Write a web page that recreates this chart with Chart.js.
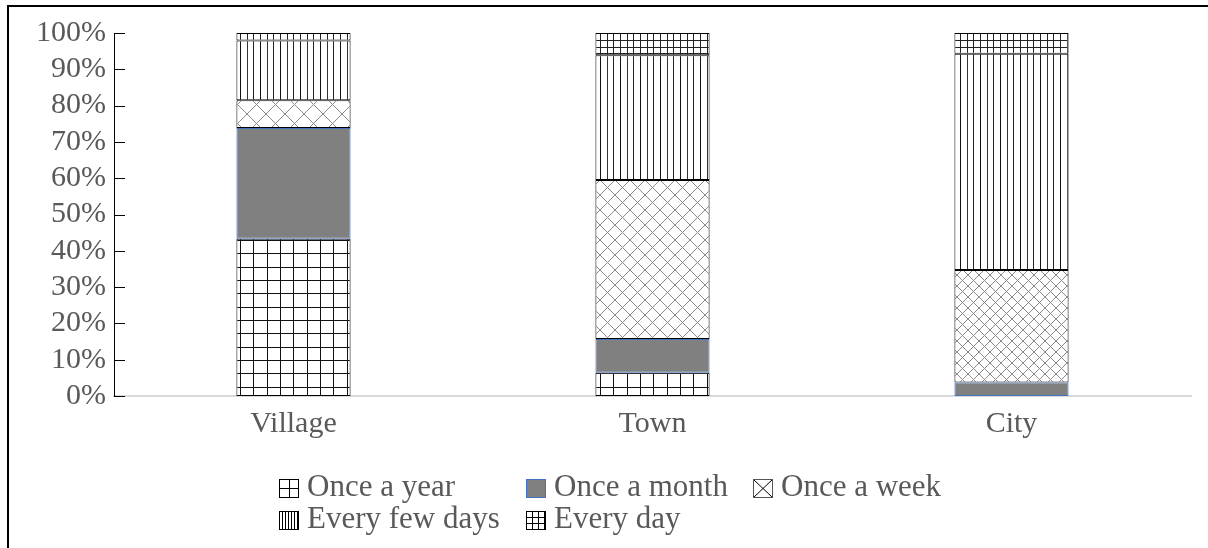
<!DOCTYPE html>
<html>
<head>
<meta charset="utf-8">
<script src="https://cdn.jsdelivr.net/npm/chart.js@4/dist/chart.umd.min.js"></script>
<style>
  html, body { margin: 0; padding: 0; background: #fff; }
  #wrap { position: relative; width: 1208px; height: 548px; overflow: hidden; }
  #frame { position: absolute; left: 7px; top: 5px; width: 1300px; height: 700px;
           border-left: 2px solid #000; border-top: 2px solid #000; pointer-events: none; }
  canvas { position: absolute; left: 0; top: 0; }
</style>
</head>
<body>
<div id="wrap">
  <canvas id="c" width="1208" height="548"></canvas>
  <div id="frame"></div>
</div>
<script>
// ---- data ----
const categories = ['Village', 'Town', 'City'];
const seriesNames = ['Once a year', 'Once a month', 'Once a week', 'Every few days', 'Every day'];
const onceYear     = [43.3, 6.4, 0];
const onceMonth    = [30.5, 9.3, 3.7];
const onceWeek     = [7.7, 43.8, 31.0];
const everyFewDays = [16.4, 34.4, 59.6];
const everyDay     = [2.1, 6.1, 5.7];
const yTicks = [0, 10, 20, 30, 40, 50, 60, 70, 80, 90, 100];

// ---- styles ----
const FONT = "'Liberation Serif', 'Times New Roman', serif";
const TEXT = '#595959';
const canvas = document.getElementById('c');
const ctx = canvas.getContext('2d');

function tile(size, draw) {
  const c = document.createElement('canvas');
  c.width = size; c.height = size;
  const x = c.getContext('2d');
  x.fillStyle = '#fff'; x.fillRect(0, 0, size, size);
  draw(x, size);
  return ctx.createPattern(c, 'repeat');
}
const gridLarge = tile(40, (x) => {
  x.fillStyle = '#111';
  [0, 13, 27].forEach(p => { x.fillRect(p, 0, 1, 40); x.fillRect(0, p, 40, 1); });
});
const gridSmall = tile(20, (x) => {
  x.fillStyle = '#222';
  [0, 7, 13].forEach(p => { x.fillRect(p, 0, 1, 20); x.fillRect(0, p, 20, 1); });
});
const vLines = tile(20, (x) => {
  x.fillStyle = '#111'; x.fillRect(0, 0, 1, 20);
  x.fillStyle = '#333'; x.fillRect(7, 0, 1, 20);
  x.fillStyle = '#222'; x.fillRect(13, 0, 1, 20);
});
function cross(s) {
  return tile(s, (x, n) => {
    x.strokeStyle = '#8a8a8a'; x.lineWidth = 1;
    x.beginPath();
    x.moveTo(-1, -1); x.lineTo(n + 1, n + 1);
    x.moveTo(n + 1, -1); x.lineTo(-1, n + 1);
    x.stroke();
  });
}
const crossBars = [cross(19), cross(15), cross(11)];

const datasets = [
  { label: seriesNames[0], data: onceYear, backgroundColor: gridLarge, borderColor: '#000' },
  { label: seriesNames[1], data: onceMonth, backgroundColor: '#808080', borderColor: '#4472C4' },
  { label: seriesNames[2], data: onceWeek, backgroundColor: crossBars, borderColor: '#000' },
  { label: seriesNames[3], data: everyFewDays, backgroundColor: vLines, borderColor: '#000' },
  { label: seriesNames[4], data: everyDay, backgroundColor: gridSmall, borderColor: '#000' }
].map(d => Object.assign(d, { borderWidth: 1, borderSkipped: false, categoryPercentage: 1, barPercentage: 0.318 }));

// inside tick marks on y axis
const innerTicks = {
  id: 'innerTicks',
  afterDraw(chart) {
    const y = chart.scales.y, a = chart.chartArea, c = chart.ctx;
    c.save();
    c.strokeStyle = '#000'; c.lineWidth = 1;
    yTicks.forEach(v => {
      const py = Math.round(y.getPixelForValue(v)) + 0.5;
      c.beginPath(); c.moveTo(a.left, py); c.lineTo(a.left + 11, py); c.stroke();
    });
    c.restore();
  }
};

// custom grid legend
const gridLegend = {
  id: 'gridLegend',
  afterDraw(chart) {
    const c = chart.ctx;
    const cols = [279, 526, 753];
    const rows = [496, 528];
    const layout = [[0, 0], [0, 1], [0, 2], [1, 0], [1, 1]];
    c.save();
    c.font = '31px ' + FONT;
    c.textBaseline = 'alphabetic';
    c.textAlign = 'left';
    chart.data.datasets.forEach((ds, i) => {
      const [r, k] = layout[i];
      const x = cols[k], base = rows[r];
      const bx = x + 0.5, by = base - 17 + 0.5, bw = 19, bh = 18;
      c.fillStyle = '#fff';
      c.fillRect(bx, by, bw, bh);
      c.strokeStyle = '#000'; c.lineWidth = 1;
      c.beginPath();
      if (i === 0) {
        c.moveTo(bx + 10, by); c.lineTo(bx + 10, by + bh);
        c.moveTo(bx, by + 9); c.lineTo(bx + bw, by + 9);
      } else if (i === 2) {
        c.moveTo(bx, by); c.lineTo(bx + bw, by + bh);
        c.moveTo(bx + bw, by); c.lineTo(bx, by + bh);
      } else if (i === 3) {
        for (let p = 3; p < bw; p += 3) { c.moveTo(bx + p, by); c.lineTo(bx + p, by + bh); }
      } else if (i === 4) {
        for (let p = 6; p < bw; p += 6) { c.moveTo(bx + p, by); c.lineTo(bx + p, by + bh); }
        for (let p = 6; p < bh; p += 6) { c.moveTo(bx, by + p); c.lineTo(bx + bw, by + p); }
      }
      c.stroke();
      if (i === 1) {
        c.fillStyle = '#808080'; c.fillRect(bx, by, bw, bh);
        c.strokeStyle = '#4472C4';
      } else {
        c.strokeStyle = i === 2 ? '#555' : '#000';
      }
      c.strokeRect(bx, by, bw, bh);
      c.fillStyle = TEXT;
      c.fillText(ds.label, x + 28, base);
    });
    c.restore();
  }
};

Chart.defaults.font.family = FONT;
Chart.defaults.font.size = 30;
Chart.defaults.color = TEXT;

new Chart(ctx, {
  type: 'bar',
  data: { labels: categories, datasets },
  options: {
    responsive: false,
    animation: false,
    layout: { padding: { left: 0, right: 17, top: 33, bottom: 0 } },
    plugins: { legend: { display: false }, tooltip: { enabled: false } },
    scales: {
      x: {
        stacked: true,
        grid: { display: false, drawTicks: false },
        border: { display: true, color: '#d9d9d9', width: 2 },
        ticks: { padding: 10, color: TEXT, font: { size: 30, family: FONT } },
        afterFit: (s) => { s.height = 152; }
      },
      y: {
        stacked: true,
        min: 0, max: 100,
        grid: { display: false, drawTicks: false },
        border: { display: true, color: '#000', width: 1 },
        ticks: {
          stepSize: 10, padding: 8, autoSkip: false, color: TEXT, font: { size: 30, family: FONT },
          callback: (v) => yTicks.includes(v) ? v + '%' : ''
        },
        afterFit: (s) => { s.width = 114; }
      }
    }
  },
  plugins: [innerTicks, gridLegend]
});
</script>
</body>
</html>
